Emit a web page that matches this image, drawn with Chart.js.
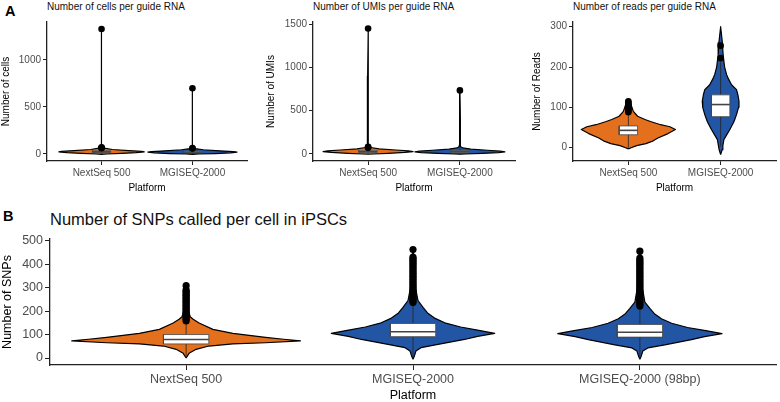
<!DOCTYPE html>
<html><head><meta charset="utf-8">
<script src="https://cdn.jsdelivr.net/npm/chart.js@4/dist/chart.umd.min.js"></script>
<style>
body{margin:0;background:#fff;width:780px;height:402px;position:relative;overflow:hidden;font-family:"Liberation Sans",Arial,sans-serif;}
.abs{position:absolute;white-space:nowrap;}
.letter{font-weight:bold;font-size:14.5px;line-height:14.5px;color:#000;}
.ptitle{font-size:10px;line-height:12px;color:#111;}
.btitle{font-size:16.5px;line-height:19px;color:#111;}
canvas{position:absolute;}
</style></head><body>
<div class="abs letter" style="left:5px;top:4px">A</div>
<div class="abs letter" style="left:3px;top:209px">B</div>
<div class="abs ptitle" style="left:47px;top:1px">Number of cells per guide RNA</div>
<div class="abs ptitle" style="left:313px;top:1px">Number of UMIs per guide RNA</div>
<div class="abs ptitle" style="left:573px;top:1px">Number of reads per guide RNA</div>
<div class="abs btitle" style="left:50px;top:210px">Number of SNPs called per cell in iPSCs</div>
<canvas id="c1" width="260" height="200" style="left:0;top:0"></canvas>
<canvas id="c2" width="260" height="200" style="left:265px;top:0"></canvas>
<canvas id="c3" width="249" height="200" style="left:531px;top:0"></canvas>
<canvas id="c4" width="780" height="202" style="left:0;top:200px"></canvas>
<script>
// ---------- categories & ticks ----------
const topCategories = ['NextSeq 500', 'MGISEQ-2000'];
const snpCategories = ['NextSeq 500', 'MGISEQ-2000', 'MGISEQ-2000 (98bp)'];
const cellsTicks = [0, 500, 1000];
const umisTicks = [0, 500, 1000, 1500];
const readsTicks = [0, 100, 200, 300];
const snpTicks = [0, 100, 200, 300, 400, 500];

// ---------- violin profiles: value levels and half-widths (category units) ----------
const cellsNextLevels = [-3, 0, 6, 14, 22, 28, 36, 48, 62, 75, 100, 800, 1330];
const cellsNextWidths = [0, 0.06, 0.22, 0.38, 0.47, 0.44, 0.30, 0.12, 0.03, 0.01, 0.005, 0.005, 0];
const cellsMgiLevels = [-3, 0, 5, 12, 20, 26, 34, 45, 58, 70, 95, 400, 700];
const cellsMgiWidths = [0, 0.07, 0.25, 0.42, 0.49, 0.45, 0.30, 0.12, 0.03, 0.01, 0.005, 0.005, 0];

const umisNextLevels = [-3, 0, 8, 18, 28, 36, 46, 60, 75, 90, 115, 900, 1450];
const umisNextWidths = [0, 0.06, 0.22, 0.40, 0.49, 0.44, 0.30, 0.12, 0.03, 0.01, 0.005, 0.005, 0];
const umisMgiLevels = [-3, 0, 7, 16, 25, 33, 43, 56, 70, 85, 110, 400, 735];
const umisMgiWidths = [0, 0.06, 0.24, 0.42, 0.49, 0.44, 0.30, 0.12, 0.03, 0.01, 0.005, 0.005, 0];

const readsNextLevels = [-3, 0, 5, 10, 17, 24, 35, 45, 52, 57, 65, 70, 78, 90, 105, 121];
const readsNextWidths = [0, 0.03, 0.09, 0.19, 0.27, 0.32, 0.43, 0.51, 0.45, 0.35, 0.24, 0.18, 0.10, 0.054, 0.032, 0];
const readsMgiLevels = [-17, -5, 5, 20, 45, 65, 82, 100, 115, 130, 144, 156, 170, 181, 200, 230, 260, 300];
const readsMgiWidths = [0, 0.016, 0.024, 0.035, 0.10, 0.145, 0.172, 0.194, 0.199, 0.188, 0.172, 0.118, 0.086, 0.065, 0.043, 0.027, 0.019, 0];

const snpNextLevels = [0, 10, 20, 37, 51, 60, 65, 73, 80, 88, 105, 122, 149, 165, 176, 200, 250, 305];
const snpNextWidths = [0, 0.0066, 0.013, 0.044, 0.10, 0.206, 0.35, 0.504, 0.43, 0.35, 0.206, 0.118, 0.057, 0.031, 0.018, 0.011, 0.009, 0];
const snpMgiLevels = [-5, 10, 30, 44, 58, 79, 92, 105, 118, 132, 150, 170, 192, 215, 245, 300, 400, 465];
const snpMgiWidths = [0, 0.0066, 0.013, 0.035, 0.11, 0.227, 0.285, 0.36, 0.29, 0.21, 0.14, 0.095, 0.064, 0.045, 0.022, 0.011, 0.0066, 0];
const snp98Levels = [-5, 10, 30, 43, 56, 78, 91, 104, 117, 130, 148, 167, 189, 210, 238, 300, 400, 458];
const snp98Widths = [0, 0.0066, 0.013, 0.035, 0.11, 0.227, 0.285, 0.362, 0.29, 0.21, 0.14, 0.095, 0.064, 0.045, 0.022, 0.011, 0.0066, 0];

// ---------- box statistics: [whisker low, Q1, median, Q3, whisker high] ----------
const cellsBoxNext = [0, 15, 23, 35, 62];
const cellsBoxMgi = [0, 12, 20, 30, 55];
const umisBoxNext = [0, 18, 28, 42, 75];
const umisBoxMgi = [0, 15, 25, 38, 70];
const readsBoxNext = [0, 32, 43, 54, 87];
const readsBoxMgi = [3, 77, 107, 131, 212];
const snpBoxNext = [3, 60, 79, 100, 160];
const snpBoxMgi = [-3, 91, 112, 147, 232];
const snpBox98 = [-3, 89, 110, 143, 219];

// ---------- outliers ----------
const cellsOutNext = [62, 66, 70, 1330];
const cellsOutMgi = [58, 62, 700];
const umisOutNext = [72, 78, 84, 1450];
const umisOutMgi = [735];
const readsOutNext = [88, 91, 94, 97, 100, 103, 106, 109, 112, 115];
const readsOutMgi = [222, 253];
const snpOutNext = [158, 164, 170, 176, 182, 188, 194, 200, 206, 212, 218, 224, 230, 236, 242, 248, 254, 260, 266, 272, 278, 284, 290, 308];
const snpOutMgi = [236, 243, 250, 257, 264, 271, 278, 285, 292, 299, 306, 313, 320, 327, 334, 341, 348, 355, 362, 369, 376, 383, 390, 397, 404, 411, 418, 424, 430, 462];
const snpOut98 = [222, 229, 236, 243, 250, 257, 264, 271, 278, 285, 292, 299, 306, 313, 320, 327, 334, 341, 348, 355, 362, 369, 376, 383, 390, 397, 404, 411, 418, 426, 455];

// ---------- styles ----------
const ORANGE = '#E4701E';
const BLUE = '#2355A5';
const AXIS = '#222';
const TICKTXT = '#4D4D4D';
const FONT = '"Liberation Sans", Arial, sans-serif';

function violinPoints(c, levels, widths) {
  const right = levels.map((v, i) => ({x: c + widths[i], y: v}));
  const left = levels.map((v, i) => ({x: c - widths[i], y: v})).reverse();
  return right.concat(left, [right[0]]);
}
function groupDatasets(c, levels, widths, box, outs, color, bw, r) {
  const [lo, q1, med, q3, hi] = box;
  return [
    {data: violinPoints(c, levels, widths), borderColor: '#000', borderWidth: 1.2, backgroundColor: color,
     fill: 'shape', pointRadius: 0, tension: 0, borderJoinStyle: 'round', order: 5},
    {data: [{x: c, y: lo}, {x: c, y: hi}], borderColor: '#222', borderWidth: 0.8, pointRadius: 0, fill: false, order: 4},
    {data: [{x: c - bw, y: q1}, {x: c + bw, y: q1}, {x: c + bw, y: q3}, {x: c - bw, y: q3}, {x: c - bw, y: q1}],
     borderColor: '#444', borderWidth: 0.8, backgroundColor: '#fff', fill: 'shape', pointRadius: 0, tension: 0, order: 3},
    {data: [{x: c - bw, y: med}, {x: c + bw, y: med}], borderColor: '#444', borderWidth: 1.6, pointRadius: 0, fill: false, order: 2},
    {data: outs.map(v => ({x: c, y: v})), showLine: false, pointRadius: r, pointBackgroundColor: '#000',
     pointBorderWidth: 0, order: 1}
  ];
}

function makeChart(id, g, datasets, cats, ticks, yTitle) {
  const tf = {family: FONT, size: g.font};
  new Chart(document.getElementById(id), {
    type: 'line',
    data: {datasets},
    options: {
      responsive: false, animation: false, devicePixelRatio: 1, events: [],
      layout: {padding: {top: g.padTop, right: g.padRight, bottom: 0, left: 0}},
      plugins: {legend: {display: false}, tooltip: {enabled: false}},
      scales: {
        x: {
          type: 'linear', min: 0.4, max: cats.length + 0.6,
          afterBuildTicks: s => { s.ticks = cats.map((_, i) => ({value: i + 1})); },
          afterFit: s => { s.height = g.xH; },
          ticks: {callback: (v, i) => cats[i], font: tf, color: TICKTXT, padding: g.xPad, maxRotation: 0, autoSkip: false},
          grid: {drawOnChartArea: false, drawTicks: true, tickLength: g.tl, color: AXIS, lineWidth: 1},
          border: {display: true, color: AXIS, width: 1.3},
          title: {display: true, text: 'Platform', color: '#000', font: {family: FONT, size: g.font, lineHeight: g.xTitleLH}, padding: {top: 0, bottom: g.xTitlePad}}
        },
        y: {
          type: 'linear', min: g.yMin, max: g.yMax,
          afterBuildTicks: s => { s.ticks = ticks.map(v => ({value: v})); },
          afterFit: s => { s.width = g.yW; },
          ticks: {callback: (v, i) => String(ticks[i]), font: tf, color: TICKTXT, padding: 2},
          grid: {drawOnChartArea: false, drawTicks: true, tickLength: g.tl, color: AXIS, lineWidth: 1},
          border: {display: true, color: AXIS, width: 1.3},
          title: {display: true, text: yTitle, color: '#000', font: {family: FONT, size: g.font, lineHeight: 1.2}, padding: {top: 0, bottom: 0}}
        }
      }
    }
  });
}

const topGeom = {font: 10, tl: 4, xPad: 2, xH: 39, xTitleLH: 1.2, xTitlePad: 6, padTop: 22};

makeChart('c1', Object.assign({}, topGeom, {padRight: 13, yW: 47, yMin: -74.5, yMax: 1404}),
  [].concat(
    groupDatasets(1, cellsNextLevels, cellsNextWidths, cellsBoxNext, cellsOutNext, ORANGE, 0.1, 3.3),
    groupDatasets(2, cellsMgiLevels, cellsMgiWidths, cellsBoxMgi, cellsOutMgi, BLUE, 0.1, 3.3)),
  topCategories, cellsTicks, 'Number of cells');

makeChart('c2', Object.assign({}, topGeom, {padRight: 10, yW: 48, yMin: -81, yMax: 1526}),
  [].concat(
    groupDatasets(1, umisNextLevels, umisNextWidths, umisBoxNext, umisOutNext, ORANGE, 0.1, 3.3),
    groupDatasets(2, umisMgiLevels, umisMgiWidths, umisBoxMgi, umisOutMgi, BLUE, 0.1, 3.3)),
  topCategories, umisTicks, 'Number of UMIs');

makeChart('c3', Object.assign({}, topGeom, {padRight: 2, yW: 42, yMin: -33, yMax: 311.7}),
  [].concat(
    groupDatasets(1, readsNextLevels, readsNextWidths, readsBoxNext, readsOutNext, ORANGE, 0.1, 3.3),
    groupDatasets(2, readsMgiLevels, readsMgiWidths, readsBoxMgi, readsOutMgi, BLUE, 0.1, 3.3)),
  topCategories, readsTicks, 'Number of Reads');

makeChart('c4', {font: 12.5, tl: 5, xPad: 2.5, xH: 37, xTitleLH: 1.0, xTitlePad: 0, padTop: 39, padRight: 0, yW: 50, yMin: -29.8, yMax: 507},
  [].concat(
    groupDatasets(1, snpNextLevels, snpNextWidths, snpBoxNext, snpOutNext, ORANGE, 0.1, 3.6),
    groupDatasets(2, snpMgiLevels, snpMgiWidths, snpBoxMgi, snpOutMgi, BLUE, 0.1, 3.6),
    groupDatasets(3, snp98Levels, snp98Widths, snpBox98, snpOut98, BLUE, 0.1, 3.6)),
  snpCategories, snpTicks, 'Number of SNPs');
</script>
</body></html>
